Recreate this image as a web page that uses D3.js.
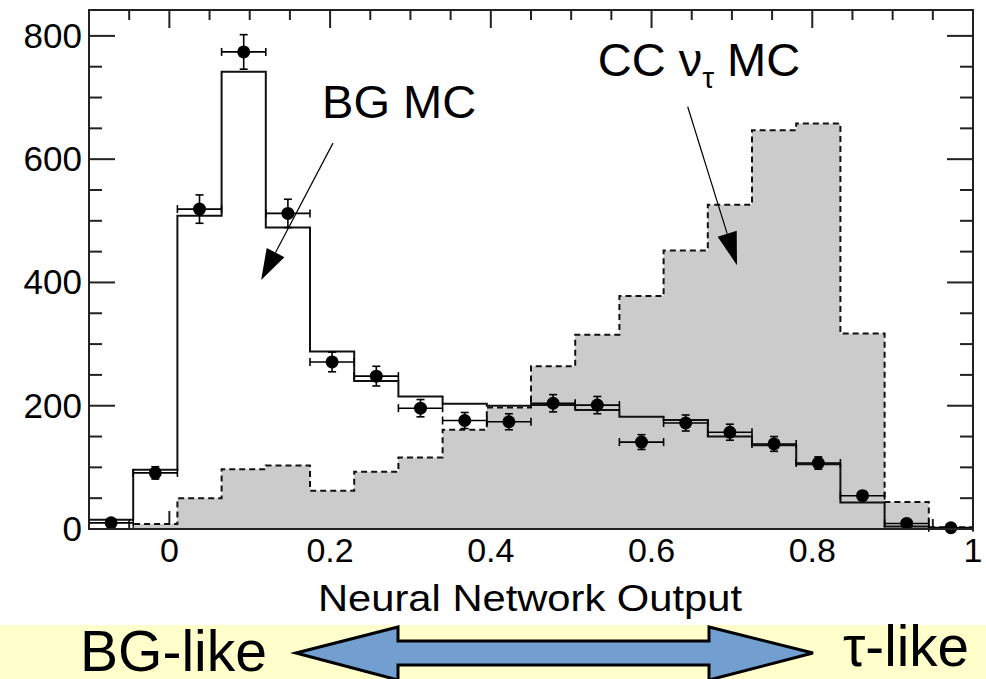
<!DOCTYPE html>
<html>
<head>
<meta charset="utf-8">
<script src="https://cdn.jsdelivr.net/npm/d3@7/dist/d3.min.js"></script>
<style>
  html, body { margin: 0; padding: 0; background: #fff; }
  svg { display: block; }
  text { font-family: "Liberation Sans", Arial, Helvetica, sans-serif; fill: #000; }
</style>
</head>
<body>
<svg id="chart" width="986" height="679"></svg>
<script>
// ---------------- data ----------------
const binEdges = [-0.1, -0.045, 0.01, 0.065, 0.12, 0.175, 0.23, 0.285, 0.34, 0.395, 0.45,
                  0.505, 0.56, 0.615, 0.67, 0.725, 0.78, 0.835, 0.89, 0.945, 1.0];
const bgMC   = [15, 96, 508, 742, 489, 288, 240, 215, 203, 200, 201, 193, 182, 177, 150, 136, 105, 43, 4, 2];
const ccNuTauMC = [0, 8, 50, 97, 103, 62, 93, 116, 161, 197, 264, 315, 378, 452, 526, 647, 658, 317, 44, 3];
const dataCounts = [10, 91, 519, 774, 512, 271, 248, 196, 176, 174, 204, 201, 141, 172, 157, 138, 107, 54, 9, 2];
const dataErrors = [3, 10, 23, 28, 23, 16, 16, 14, 13, 13, 14, 14, 12, 13, 13, 12, 10, 7, 3, 1.5];
const xTickLabels = ["0", "0.2", "0.4", "0.6", "0.8", "1"];
const xTickValues = [0, 0.2, 0.4, 0.6, 0.8, 1];
const yTickValues = [0, 200, 400, 600, 800];
const xTitle = "Neural Network Output";

// ---------------- layout ----------------
const svg = d3.select("#chart");
const L = 89, R = 973, T = 10, B = 529;
const x = d3.scaleLinear().domain([-0.1, 1.0]).range([L, R]);
const y = d3.scaleLinear().domain([0, 842]).range([B, T]);

svg.append("rect").attr("width", 986).attr("height", 679).attr("fill", "#fff");

// ---------------- ticks (drawn first, fills cover them) ----------------
const tickColor = "#222";
const xMinor = d3.range(-0.05, 1.0001, 0.05).map(v => +v.toFixed(3));
const yMinor = d3.range(0, 842, 50);
const gT = svg.append("g").attr("stroke", tickColor).attr("stroke-width", 2);
xMinor.forEach(v => {
  const major = xTickValues.some(m => Math.abs(m - v) < 1e-6);
  const len = major ? 18 : 10;
  gT.append("line").attr("x1", x(v)).attr("x2", x(v)).attr("y1", T).attr("y2", T + len);
  gT.append("line").attr("x1", x(v)).attr("x2", x(v)).attr("y1", B).attr("y2", B - len);
});
yMinor.forEach(v => {
  const major = yTickValues.includes(v);
  const len = major ? 26 : 13;
  gT.append("line").attr("x1", L).attr("x2", L + len).attr("y1", y(v)).attr("y2", y(v));
  gT.append("line").attr("x1", R).attr("x2", R - len).attr("y1", y(v)).attr("y2", y(v));
});

// ---------------- histograms ----------------
function stepPoints(vals) {
  const pts = [[binEdges[0], 0]];
  vals.forEach((v, i) => pts.push([binEdges[i], v]));
  pts.push([binEdges[binEdges.length - 1], vals[vals.length - 1]]);
  pts.push([binEdges[binEdges.length - 1], 0]);
  return pts;
}
const stepLine = d3.line().x(d => x(d[0])).y(d => y(d[1])).curve(d3.curveStepAfter);
const stepArea = d3.area().x(d => x(d[0])).y0(y(0)).y1(d => y(d[1])).curve(d3.curveStepAfter);

const ccPts = stepPoints(ccNuTauMC);
svg.append("path").attr("d", stepArea(ccPts)).attr("fill", "#cbcbcb").attr("stroke", "none");

const bgPts = stepPoints(bgMC);
svg.append("path").attr("d", stepLine(bgPts)).attr("fill", "none")
  .attr("stroke", "#111").attr("stroke-width", 2);

svg.append("path").attr("d", stepLine(ccPts)).attr("fill", "none")
  .attr("stroke", "#111").attr("stroke-width", 2).attr("stroke-dasharray", "6,4");

// ---------------- data points ----------------
const gD = svg.append("g").attr("stroke", "#000").attr("stroke-width", 1.6);
dataCounts.forEach((v, i) => {
  const lo = binEdges[i], hi = binEdges[i + 1], c = (lo + hi) / 2;
  const e = dataErrors[i];
  const cx = x(c), cy = y(v);
  gD.append("line").attr("x1", x(lo)).attr("x2", x(hi)).attr("y1", cy).attr("y2", cy);
  gD.append("line").attr("x1", x(lo)).attr("x2", x(lo)).attr("y1", cy - 4).attr("y2", cy + 4);
  gD.append("line").attr("x1", x(hi)).attr("x2", x(hi)).attr("y1", cy - 4).attr("y2", cy + 4);
  gD.append("line").attr("x1", cx).attr("x2", cx).attr("y1", y(v - e)).attr("y2", y(v + e));
  gD.append("line").attr("x1", cx - 4).attr("x2", cx + 4).attr("y1", y(v + e)).attr("y2", y(v + e));
  gD.append("line").attr("x1", cx - 4).attr("x2", cx + 4).attr("y1", y(v - e)).attr("y2", y(v - e));
  svg.append("circle").attr("cx", cx).attr("cy", cy).attr("r", 6.5).attr("fill", "#000");
});

// ---------------- frame ----------------
svg.append("rect").attr("x", L).attr("y", T).attr("width", R - L).attr("height", B - T)
  .attr("fill", "none").attr("stroke", "#222").attr("stroke-width", 2);

// ---------------- tick labels ----------------
xTickValues.forEach((v, i) => {
  svg.append("text").attr("x", x(v)).attr("y", 562).attr("text-anchor", "middle")
    .attr("font-size", 34).text(xTickLabels[i]);
});
yTickValues.forEach(v => {
  svg.append("text").attr("x", 82).attr("y", y(v) + 12).attr("text-anchor", "end")
    .attr("font-size", 35).text(String(v));
});

// axis title
svg.append("text").attr("x", 318).attr("y", 611).attr("font-size", 37)
  .attr("textLength", 424).attr("lengthAdjust", "spacingAndGlyphs").text(xTitle);

// ---------------- annotations ----------------
function arrow(x1, y1, x2, y2, headLen, headHalf) {
  const px1 = x(x1), py1 = y(y1), px2 = x(x2), py2 = y(y2);
  const dx = px2 - px1, dy = py2 - py1, len = Math.hypot(dx, dy);
  const ux = dx / len, uy = dy / len;
  const bx = px2 - ux * headLen, by = py2 - uy * headLen;
  svg.append("line").attr("x1", px1).attr("y1", py1).attr("x2", bx).attr("y2", by)
    .attr("stroke", "#000").attr("stroke-width", 1.2);
  svg.append("path")
    .attr("d", `M${px2},${py2}L${bx - uy * headHalf},${by + ux * headHalf}L${bx + uy * headHalf},${by - ux * headHalf}Z`)
    .attr("fill", "#000");
}
svg.append("text").attr("x", x(0.19)).attr("y", y(667)).attr("font-size", 47).text("BG MC");
arrow(0.2036, 626, 0.1142, 404, 31, 10);

const cc = svg.append("text").attr("x", x(0.533)).attr("y", y(735)).attr("font-size", 47);
cc.append("tspan").text("CC \u03BD");
cc.append("tspan").attr("font-size", 30).attr("dy", 12).text("\u03C4");
cc.append("tspan").attr("dy", -12).text(" MC");
arrow(0.645, 685, 0.7063, 428, 33, 10);

// ---------------- bottom banner ----------------
svg.append("rect").attr("x", 0).attr("y", 625).attr("width", 986).attr("height", 54).attr("fill", "#ffffcc");
svg.append("text").attr("x", 80).attr("y", 671).attr("font-size", 57)
  .attr("textLength", 187).attr("lengthAdjust", "spacingAndGlyphs").text("BG-like");
svg.append("text").attr("x", 843).attr("y", 666).attr("font-size", 57)
  .attr("textLength", 126).attr("lengthAdjust", "spacingAndGlyphs").text("\u03C4-like");
svg.append("path")
  .attr("d", "M296,653 L398,627 L398,641 L709,641 L709,627 L813,653 L709,680 L709,665 L398,665 L398,680 Z")
  .attr("fill", "#729fcf").attr("stroke", "#000").attr("stroke-width", 3).attr("stroke-linejoin", "miter");
</script>
</body>
</html>
